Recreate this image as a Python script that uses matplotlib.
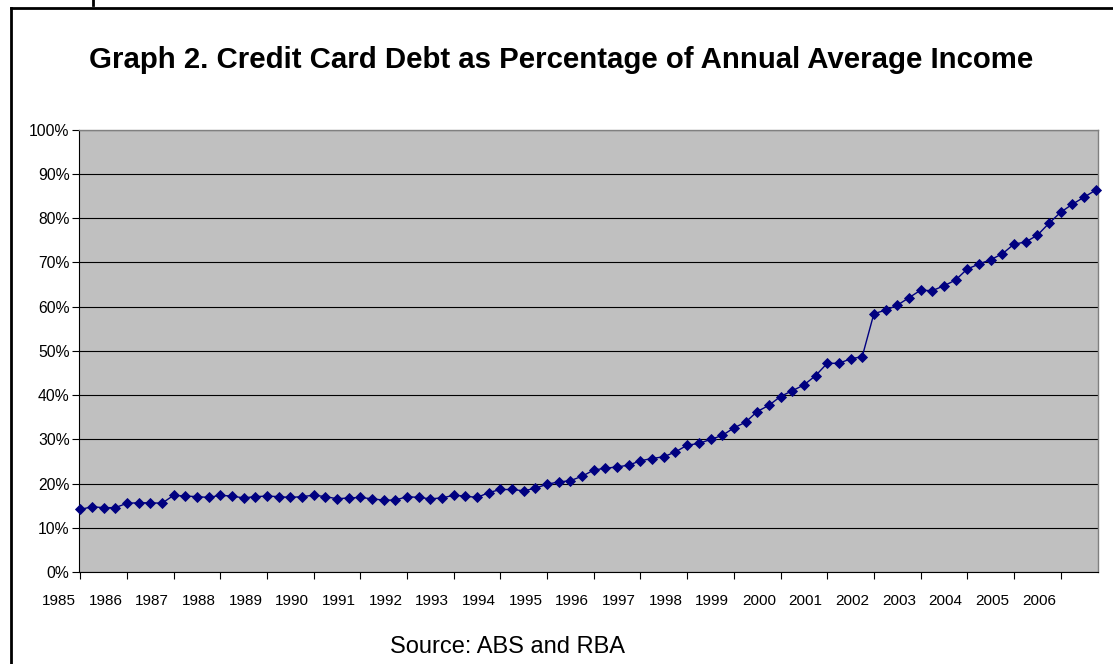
import matplotlib
matplotlib.use("Agg")
import matplotlib.pyplot as plt
from matplotlib.lines import Line2D

# ---- data ----
years = [str(y) for y in range(1985, 2007)]
debt_pct = [
    14.2, 14.8, 14.6, 14.6, 15.6, 15.7, 15.7, 15.6,
    17.4, 17.2, 17.1, 16.9, 17.4, 17.2, 16.8, 17.1,
    17.2, 17.1, 16.9, 17.1, 17.4, 17.1, 16.6, 16.8,
    16.9, 16.6, 16.3, 16.3, 17.1, 16.9, 16.6, 16.8,
    17.4, 17.2, 16.9, 18.0, 18.7, 18.7, 18.4, 19.0,
    19.9, 20.4, 20.7, 21.7, 23.1, 23.5, 23.8, 24.2,
    25.2, 25.7, 26.1, 27.2, 28.7, 29.1, 30.0, 30.9,
    32.6, 33.9, 36.3, 37.7, 39.7, 41.0, 42.3, 44.4,
    47.2, 47.2, 48.2, 48.7, 58.4, 59.2, 60.3, 62.0,
    63.7, 63.6, 64.7, 66.0, 68.5, 69.6, 70.6, 71.9,
    74.1, 74.6, 76.1, 78.8, 81.3, 83.1, 84.7, 86.3,
]
ytick_vals = list(range(0, 101, 10))
ytick_labels = [f"{v}%" for v in ytick_vals]
title = "Graph 2. Credit Card Debt as Percentage of Annual Average Income"
source = "Source: ABS and RBA"

plt.rcParams['font.family'] = ['Liberation Sans', 'DejaVu Sans']

W, H = 1113, 664
fig = plt.figure(figsize=(W / 100, H / 100), dpi=100)
fig.patch.set_facecolor('white')

L, R, T, B = 79.3, 1097.7, 129.5, 572.3
ax = fig.add_axes([L / W, 1 - B / H, (R - L) / W, (B - T) / H])
ax.set_facecolor('#C0C0C0')

x = list(range(len(debt_pct)))
ax.plot(x, debt_pct, color='#000080', lw=1.0, marker='D', ms=5.0,
        mec='#000080', mfc='#000080', mew=0.6, zorder=3, clip_on=False)

ax.set_xlim(-0.09, 87.18)
ax.set_ylim(0, 100)
ax.set_yticks(ytick_vals)
ax.set_yticklabels(ytick_labels, fontsize=11.3)
ax.yaxis.grid(True, color='black', lw=0.8)
ax.set_axisbelow(True)

ax.set_xticks(range(0, 85, 4))
ax.set_xticklabels([])
ax.tick_params(axis='both', direction='out', length=5, width=0.8, color='black')
ax.tick_params(axis='y', pad=2)

for k, yr in enumerate(years):
    ax.text(4 * k - 1.85, -0.065, yr, transform=ax.get_xaxis_transform(),
            ha='center', va='center', fontsize=11)

for side in ['left', 'bottom']:
    ax.spines[side].set_color('black')
    ax.spines[side].set_linewidth(0.8)
for side in ['top', 'right']:
    ax.spines[side].set_color('#808080')
    ax.spines[side].set_linewidth(1.0)

fig.text(561 / W, 1 - 60 / H, title, ha='center', va='center',
         fontsize=21.2, fontweight='bold')
fig.text(508 / W, 1 - 647 / H, source, ha='center', va='center', fontsize=17)

# outer chart frame
fig.add_artist(Line2D([10.5 / W, 1.0], [1 - 7.5 / H, 1 - 7.5 / H],
                      transform=fig.transFigure, color='black', lw=2))
fig.add_artist(Line2D([10.5 / W, 10.5 / W], [0, 1 - 7.5 / H],
                      transform=fig.transFigure, color='black', lw=2))
fig.add_artist(Line2D([93.5 / W, 93.5 / W], [1 - 5 / H, 1.0],
                      transform=fig.transFigure, color='black', lw=2))

fig.savefig('out.png', dpi=100)
